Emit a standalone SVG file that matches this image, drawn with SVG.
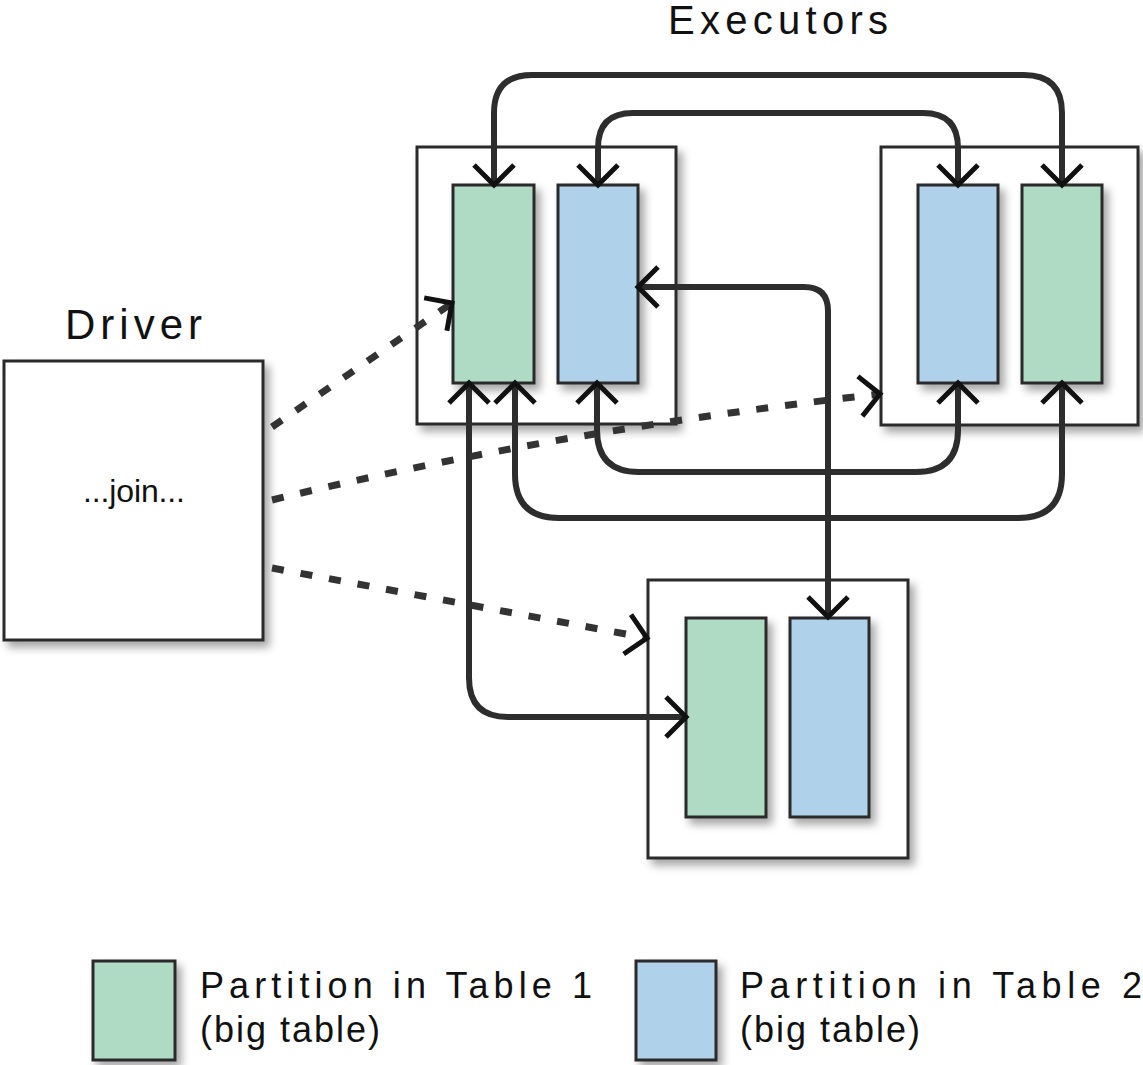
<svg xmlns="http://www.w3.org/2000/svg" width="1143" height="1065" viewBox="0 0 1143 1065">
  <style>
    .box { fill: #ffffff; stroke: #2b2b2b; stroke-width: 3; }
    .green { fill: #afdbc4; stroke: #2b2b2b; stroke-width: 3; }
    .blue { fill: #afd1e9; stroke: #2b2b2b; stroke-width: 3; }
    .conn { fill: none; stroke: #2d2d2d; stroke-width: 6; stroke-linejoin: round; }
    .dot { fill: none; stroke: #333333; stroke-width: 7; stroke-dasharray: 12 17; }
    .lbl { font-family: "Liberation Sans", "DejaVu Sans", sans-serif; fill: #111111; }
  </style>
  <defs>
    <filter id="sh" x="-20%" y="-20%" width="150%" height="150%">
      <feDropShadow dx="5" dy="6" stdDeviation="4" flood-color="#000000" flood-opacity="0.35"/>
    </filter>
    <marker id="ah" viewBox="-30 -30 40 60" markerWidth="40" markerHeight="60" refX="0" refY="0" orient="auto-start-reverse" markerUnits="userSpaceOnUse">
      <path d="M -20 -20 L 0 0 L -20 20" fill="none" stroke="#111111" stroke-width="5"/>
    </marker>
  </defs>

  <rect width="1143" height="1065" fill="#ffffff"/>

  <text class="lbl" x="668" y="34" font-size="40" textLength="220">Executors</text>

  <g id="driver">
    <text class="lbl" x="65" y="339" font-size="42" textLength="137">Driver</text>
    <rect class="box" x="4" y="361" width="259" height="279" filter="url(#sh)"/>
    <text class="lbl" x="83" y="502" font-size="32" textLength="102">...join...</text>
  </g>

  <g id="executor-a">
    <rect class="box" x="417" y="147" width="259" height="277" filter="url(#sh)"/>
    <g id="a-table1"><rect class="green" x="453" y="185" width="81" height="198" filter="url(#sh)"/></g>
    <g id="a-table2"><rect class="blue" x="558" y="185" width="80" height="198" filter="url(#sh)"/></g>
  </g>

  <g id="executor-b">
    <rect class="box" x="881" y="147" width="257" height="278" filter="url(#sh)"/>
    <g id="b-table2"><rect class="blue" x="918" y="185" width="80" height="198" filter="url(#sh)"/></g>
    <g id="b-table1"><rect class="green" x="1022" y="185" width="80" height="198" filter="url(#sh)"/></g>
  </g>

  <g id="executor-c">
    <rect class="box" x="648" y="580" width="260" height="278" filter="url(#sh)"/>
    <g id="c-table1"><rect class="green" x="686" y="618" width="80" height="199" filter="url(#sh)"/></g>
    <g id="c-table2"><rect class="blue" x="790" y="618" width="79" height="199" filter="url(#sh)"/></g>
  </g>

  <g id="connectors">
    <path class="conn" marker-start="url(#ah)" marker-end="url(#ah)" d="M 494 185 V 113 Q 494 75 532 75 H 1024 Q 1062 75 1062 113 V 185"/>
    <path class="conn" marker-start="url(#ah)" marker-end="url(#ah)" d="M 598 185 V 148 Q 598 113 633 113 H 923 Q 958 113 958 148 V 185"/>
    <path class="conn" marker-start="url(#ah)" marker-end="url(#ah)" d="M 638 287 H 804 Q 828 287 828 311 V 617"/>
    <path class="conn" marker-start="url(#ah)" marker-end="url(#ah)" d="M 597 383 V 430 Q 597 472 639 472 H 916 Q 958 472 958 430 V 383"/>
    <path class="conn" marker-start="url(#ah)" marker-end="url(#ah)" d="M 515 383 V 474 Q 515 518 559 518 H 1018 Q 1062 518 1062 474 V 383"/>
    <path class="conn" marker-start="url(#ah)" marker-end="url(#ah)" d="M 469 383 V 678 Q 469 717 508 717 H 686"/>

    <path class="dot" marker-end="url(#ah)" d="M 272 427 L 452 303"/>
    <path class="dot" marker-end="url(#ah)" d="M 272 500 Q 560 430 880 394"/>
    <path class="dot" marker-end="url(#ah)" d="M 272 568 L 647 638"/>
  </g>

  <g id="legend">
    <g id="legend-table1">
      <rect class="green" x="93" y="961" width="82" height="99" filter="url(#sh)"/>
      <text class="lbl" x="200" y="998" font-size="36" textLength="392">Partition in Table 1</text>
      <text class="lbl" x="200" y="1042" font-size="36" textLength="180">(big table)</text>
    </g>
    <g id="legend-table2">
      <rect class="blue" x="636" y="961" width="80" height="99" filter="url(#sh)"/>
      <text class="lbl" x="740" y="998" font-size="36" textLength="402">Partition in Table 2</text>
      <text class="lbl" x="740" y="1042" font-size="36" textLength="180">(big table)</text>
    </g>
  </g>
</svg>
